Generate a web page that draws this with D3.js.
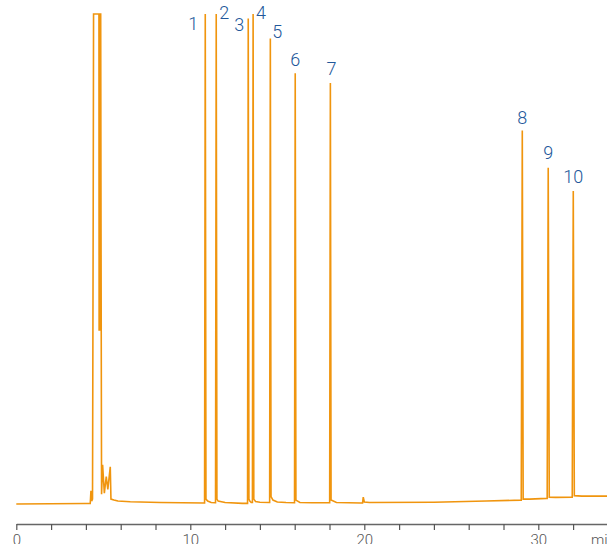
<!DOCTYPE html>
<html>
<head>
<meta charset="utf-8">
<script src="https://cdn.jsdelivr.net/npm/d3@7"></script>
<style>
  html, body { margin: 0; padding: 0; background: #fff; }
  svg { display: block; }
</style>
</head>
<body>
<svg id="chart" width="607" height="544"></svg>
<script>
// ---- Data ----
// retention time (min)
const traceTime = [
  0, 3.95, 4.25, 4.29, 4.33, 4.38, 4.42, 4.44, 4.75, 4.76, 4.80, 4.81, 4.85, 4.87,
  4.90, 4.96, 5.06, 5.17, 5.26, 5.40, 5.44, 5.61, 5.84, 6.55, 8.28, 10.80,
  10.82, 10.86, 10.90, 11.00, 11.20, 11.44,
  11.45, 11.49, 11.53, 11.60, 12.00, 13.00, 13.27,
  13.29, 13.33, 13.37, 13.42, 13.50, 13.56,
  13.57, 13.61, 13.65, 13.75, 14.00, 14.55,
  14.56, 14.60, 14.64, 14.75, 15.00, 15.50, 15.98,
  15.99, 16.03, 16.07, 16.30, 17.00, 17.99,
  18.01, 18.05, 18.09, 18.40, 19.80, 19.90, 19.94, 20.00, 20.30,
  24.00, 27.00, 28.99,
  29.02, 29.08, 29.13, 29.50, 30.48,
  30.51, 30.57, 30.63, 31.00, 31.92,
  31.95, 32.01, 32.07, 32.50, 34.20
];
// detector signal (relative units, 100 = full scale)
const traceSignal = [
  0.0, 0.1, 0.1, 2.7, 0.6, 1.0, 60, 100, 100, 35.5, 35.5, 100, 100, 55,
  2.0, 8.0, 2.2, 5.6, 3.0, 7.6, 1.0, 0.8, 0.6, 0.45, 0.3, 0.2,
  0.2, 100, 1.0, 0.6, 0.3, 0.25,
  0.25, 100, 1.0, 0.6, 0.3, 0.12, 0.12,
  0.12, 99.1, 1.0, 0.6, 0.3, 0.3,
  0.3, 100, 1.0, 0.5, 0.35, 0.3,
  0.3, 95.0, 1.5, 0.8, 0.4, 0.3, 0.25,
  0.25, 87.9, 0.8, 0.3, 0.25, 0.25,
  0.25, 85.9, 0.8, 0.3, 0.2, 0.2, 1.4, 0.4, 0.3,
  0.35, 0.6, 0.8,
  0.8, 76.2, 1.0, 1.0, 1.15,
  1.15, 68.6, 1.4, 1.35, 1.4,
  1.4, 63.9, 1.7, 1.6, 1.6
];
// labelled peaks
const peakLabels = ["1", "2", "3", "4", "5", "6", "7", "8", "9", "10"];
const peakTimes  = [10.86, 11.49, 13.33, 13.61, 14.60, 16.03, 18.05, 29.08, 30.57, 32.01];
const peakHeights = [100, 100, 99.1, 100, 95.0, 87.9, 85.9, 76.2, 68.6, 63.9];
// axis ticks
const tickValues = [0, 2, 4, 6, 8, 10, 12, 14, 16, 18, 20, 22, 24, 26, 28, 30, 32, 34];
const tickLabels = ["0", "", "", "", "", "10", "", "", "", "", "20", "", "", "", "", "30", "", "min"];

// ---- Layout / style ----
const labelOffsets = [ // [dx, dy] from peak apex, in px
  [-12, 16], [8, 5], [-9, 13], [8, 5], [7, -1], [0, -7], [1, -8], [0, -7], [0, -8.5], [0, -8]
];
const lineColor = "#f0950e";
const labelColor = "#22579a";
const fontFamily = "Roboto, 'Open Sans', 'Liberation Sans', sans-serif";

const svg = d3.select("#chart");
const x = d3.scaleLinear().domain([0, 34]).range([16.3, 607.9]);
const y = d3.scaleLinear().domain([0, 100]).range([504, 14]);

// axis
const axis = d3.axisBottom(x)
  .tickValues(tickValues)
  .tickSize(6)
  .tickSizeOuter(0)
  .tickPadding(4)
  .tickFormat((d, i) => tickLabels[i]);

const gAxis = svg.append("g")
  .attr("transform", "translate(0,524)")
  .call(axis);
gAxis.select(".domain").attr("stroke", "#666").attr("stroke-width", 1.3);
gAxis.selectAll(".tick line").attr("stroke", "#555").attr("stroke-width", 1.2);
gAxis.selectAll(".tick text")
  .attr("fill", "#555")
  .attr("font-family", fontFamily)
  .attr("font-weight", 300)
  .attr("font-size", 15);
// unit label sits a little left of its (off-canvas) tick
gAxis.selectAll(".tick text").filter(d => d === 34).attr("dx", -5);

// trace
const pts = traceTime.map((t, i) => [t, traceSignal[i]]);
const line = d3.line().x(d => x(d[0])).y(d => y(d[1]));
svg.append("path")
  .datum(pts)
  .attr("d", line)
  .attr("fill", "none")
  .attr("stroke", lineColor)
  .attr("stroke-width", 1.6)
  .attr("stroke-linejoin", "miter")
  .attr("stroke-miterlimit", 2);

// peak labels
svg.append("g").selectAll("text")
  .data(peakLabels)
  .join("text")
  .attr("x", (d, i) => x(peakTimes[i]) + labelOffsets[i][0])
  .attr("y", (d, i) => y(peakHeights[i]) + labelOffsets[i][1])
  .attr("text-anchor", "middle")
  .attr("fill", labelColor)
  .attr("font-family", fontFamily)
  .attr("font-weight", 300)
  .attr("font-size", 18)
  .text(d => d);
</script>
</body>
</html>
